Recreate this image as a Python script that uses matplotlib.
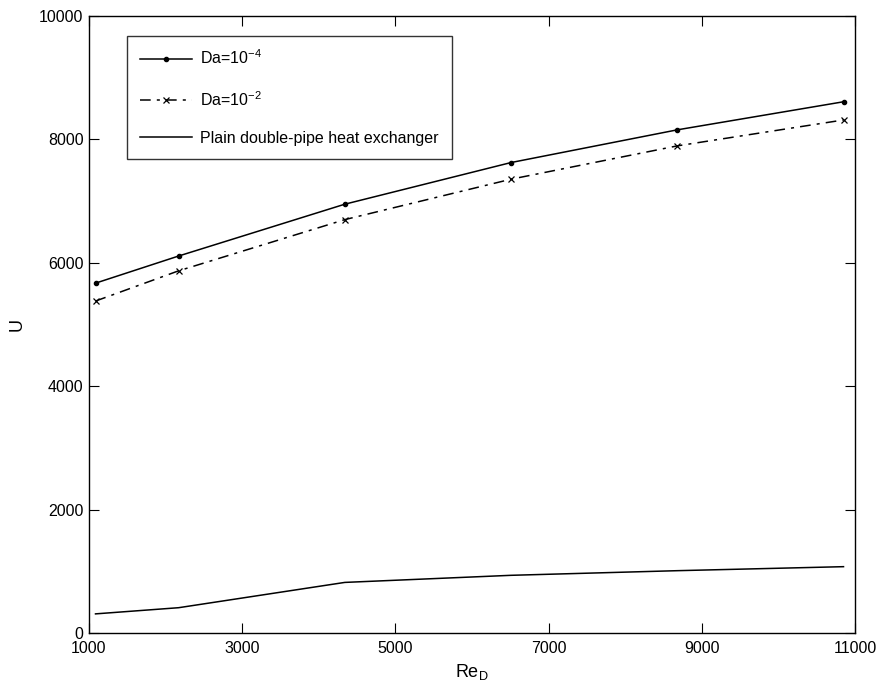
import matplotlib
matplotlib.use("Agg")
import matplotlib.pyplot as plt
from matplotlib.ticker import FixedLocator

plt.rcParams['font.family'] = ['Liberation Sans', 'DejaVu Sans']

re_d = [1085, 2170, 4340, 6510, 8680, 10850]
u_da4 = [5670, 6110, 6950, 7625, 8155, 8610]
u_da2 = [5380, 5870, 6700, 7355, 7895, 8315]
u_plain = [310, 410, 820, 935, 1010, 1075]

x_ticks = [1000, 3000, 5000, 7000, 9000, 11000]
y_ticks = [0, 2000, 4000, 6000, 8000, 10000]

fig = plt.figure(figsize=(8.82, 6.92), dpi=100)
ax = fig.add_axes([89/882, 59/692, 766/882, 617/692])

ax.plot(re_d, u_da4, color='black', linestyle='-', linewidth=1.1,
        marker='.', markersize=6, label=r'Da=10$^{\mathregular{-4}}$')
ax.plot(re_d, u_da2, color='black', linestyle=(0, (7, 4, 2, 4)), linewidth=1.1,
        marker='x', markersize=5, markeredgewidth=0.9, label=r'Da=10$^{\mathregular{-2}}$')
ax.plot(re_d, u_plain, color='black', linestyle='-', linewidth=1.1,
        label='Plain double-pipe heat exchanger')

ax.set_xlim(1000, 11000)
ax.set_ylim(0, 10000)
ax.xaxis.set_major_locator(FixedLocator(x_ticks))
ax.yaxis.set_major_locator(FixedLocator(y_ticks))
ax.tick_params(direction='in', length=7, width=0.8, top=True, right=True,
               labelsize=11.5)
ax.tick_params(axis='x', pad=6)
ax.tick_params(axis='y', pad=4)
for s in ax.spines.values():
    s.set_linewidth(1.0)

ax.set_xlabel(r'Re$_\mathregular{D}$', fontsize=13, labelpad=4)
ax.set_ylabel('U', fontsize=13, labelpad=10)

leg = ax.legend(loc='upper left', bbox_to_anchor=(0.0496, 0.9676),
                fontsize=11.5, frameon=True, fancybox=False, edgecolor='black',
                handlelength=3.3, handletextpad=0.5, labelspacing=1.4,
                borderpad=0.8, borderaxespad=0)
leg.get_frame().set_linewidth(1.0)

fig.savefig('out.png', dpi=100, facecolor='white')
